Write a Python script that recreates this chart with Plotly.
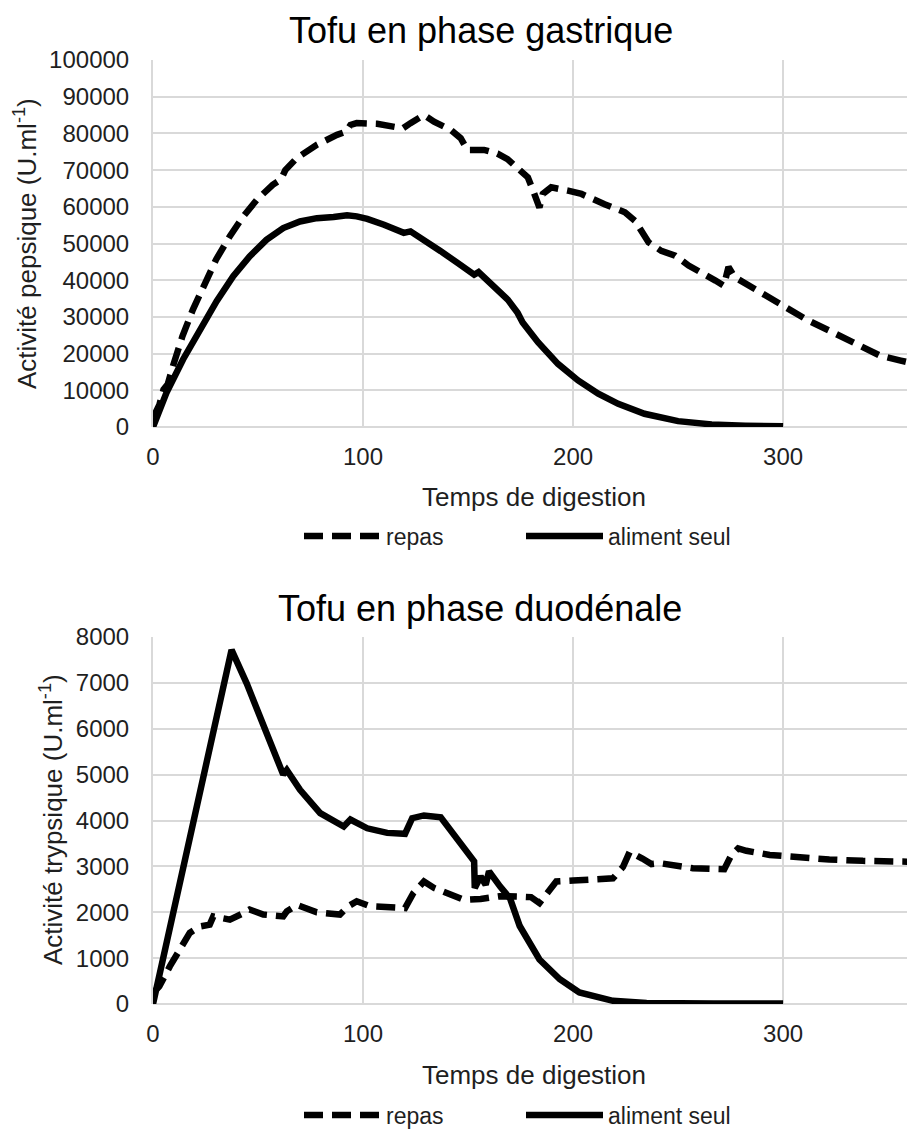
import plotly.graph_objects as go

# Tofu, phase gastrique : activité pepsique (U.ml-1)
gastric_repas_t = [0, 3, 5, 7, 9.5, 14, 19, 24, 30, 36.6, 43, 49.4, 57, 61, 63, 68.5, 78, 87.6, 92, 94, 97,
                   106.7, 113, 119, 122.6, 129, 133.8, 141.7, 146.5, 149.7, 157.6, 164, 168.8, 173.6, 178.5,
                   181, 184, 185.6, 189.6, 197.6, 204, 215, 224.7, 229.5, 233.5, 236, 242, 248.6, 255, 261.4,
                   267.8, 271.8, 274, 277, 285, 293, 301, 312, 323.6, 336, 346, 356, 362]
gastric_repas = [2500, 6000, 10200, 11600, 16600, 24700, 32000, 38300, 45600, 52000, 57400, 61900, 66000, 67500,
                 70000, 73300, 76900, 79600, 80500, 82300, 82800, 82600, 81900, 81400, 82800, 85000, 83200, 81000,
                 78700, 75500, 75500, 74500, 73000, 70400, 68000, 64400, 59800, 63500, 65300, 64400, 63500, 60700,
                 58500, 56200, 52600, 50300, 48000, 46700, 44000, 41700, 39900, 38500, 43600, 40800, 38100, 35400,
                 32600, 29000, 25800, 22200, 19500, 18100, 17300]

gastric_seul_t = [0, 6.4, 14.3, 22.3, 30.3, 38.2, 46, 54, 62, 70, 78, 86, 92.4, 97, 102, 110, 119.4, 122.6, 129,
                  137, 145, 152.9, 155, 162.4, 168.9, 173.6, 176, 183.3, 192.8, 202.4, 212, 221.5, 234, 250, 266,
                  282, 300]
gastric_seul = [0, 9300, 18400, 26600, 34300, 41100, 46500, 51000, 54200, 56000, 56900, 57200, 57700, 57400, 56700,
                55100, 52900, 53300, 51000, 47900, 44700, 41500, 42200, 38300, 34700, 31100, 28500, 23100, 17200,
                12700, 9100, 6300, 3600, 1600, 700, 360, 200]

# Tofu, phase duodénale : activité trypsique (U.ml-1)
duod_repas_t = [0, 3, 8, 12.7, 17.5, 22.3, 27, 28.7, 36.6, 43, 46, 52.5, 62, 63.7, 68.5, 78, 89, 93, 97, 103.5,
                110, 120, 124, 129, 133.8, 141.7, 148, 156, 165, 175, 180, 184, 187.3, 192, 200, 214, 219, 223.8,
                227, 233, 237.3, 241.3, 250.8, 257, 272, 275.4, 278.6, 282.5, 293.6, 306, 322, 338, 362]
duod_repas = [240, 385, 820, 1180, 1550, 1690, 1730, 1910, 1840, 1980, 2060, 1950, 1910, 2020, 2160, 2000, 1950,
              2130, 2240, 2130, 2110, 2090, 2420, 2670, 2530, 2380, 2270, 2290, 2350, 2340, 2330, 2200, 2380, 2670,
              2690, 2720, 2740, 2990, 3320, 3170, 3050, 3070, 2990, 2960, 2940, 3250, 3390, 3340, 3250, 3200, 3150,
              3120, 3100]

duod_seul_t = [0, 37.4, 44.6, 52.5, 60.5, 62, 63.7, 70, 79.6, 90.8, 94, 102, 111.5, 120, 123.4, 129, 137, 145,
               152.9, 153.2, 156, 158.4, 160, 165.3, 170, 174.6, 180, 184, 193.7, 203, 219, 235, 266.7, 300]
duod_seul = [0, 7720, 6990, 6120, 5180, 5000, 5100, 4670, 4160, 3870, 4020, 3830, 3730, 3710, 4050, 4110, 4070,
             3580, 3110, 2530, 2780, 2600, 2890, 2560, 2300, 1700, 1260, 970, 540, 250, 70, 20, 10, 10]

FONT = "Liberation Sans, Arial, sans-serif"
W, H = 907, 1129
DASH = "19px,9px"


def py(px):  # pixel row -> paper y
    return (H - px) / H


def pxx(px):  # pixel column -> paper x
    return (px - 153) / (W - 153)


fig = go.Figure()

fig.add_trace(go.Scatter(x=gastric_repas_t, y=gastric_repas, mode="lines", name="repas",
                         line=dict(color="black", width=6.5, dash=DASH), xaxis="x", yaxis="y", legend="legend"))
fig.add_trace(go.Scatter(x=gastric_seul_t, y=gastric_seul, mode="lines", name="aliment seul",
                         line=dict(color="black", width=6.5), xaxis="x", yaxis="y", legend="legend"))
fig.add_trace(go.Scatter(x=duod_repas_t, y=duod_repas, mode="lines", name="repas",
                         line=dict(color="black", width=6.5, dash=DASH), xaxis="x2", yaxis="y2", legend="legend2"))
fig.add_trace(go.Scatter(x=duod_seul_t, y=duod_seul, mode="lines", name="aliment seul",
                         line=dict(color="black", width=6.5), xaxis="x2", yaxis="y2", legend="legend2"))

# invisible outside ticks give the gap between axis and tick labels
xax = dict(range=[0, 359], tickvals=[0, 100, 200, 300], showgrid=True, gridcolor="#d9d9d9", gridwidth=2,
           zeroline=False, showline=False, ticks="outside", ticklen=8, tickcolor="rgba(0,0,0,0)",
           tickfont=dict(size=24, color="#1f1f1f", family=FONT))
yax = dict(showgrid=True, gridcolor="#d9d9d9", gridwidth=2, zeroline=True, zerolinecolor="#d9d9d9",
           zerolinewidth=2, showline=True, linecolor="#d9d9d9", linewidth=2, ticks="", ticklabelstandoff=17,
           tickformat="d", tickfont=dict(size=24, color="#1f1f1f", family=FONT))

leg = dict(orientation="h", xanchor="left", yanchor="middle", font=dict(size=23, color="#1f1f1f", family=FONT),
           entrywidth=130, itemwidth=77, bgcolor="rgba(0,0,0,0)")

ann_font = dict(size=26, color="#1f1f1f")
fig.update_layout(
    width=W, height=H,
    margin=dict(l=153, r=0, t=0, b=0, autoexpand=False),
    plot_bgcolor="white", paper_bgcolor="white",
    font=dict(family=FONT, color="#1f1f1f"),
    xaxis=dict(xax, domain=[0, 1], anchor="y"),
    yaxis=dict(yax, domain=[py(427), py(60)], range=[0, 100000], dtick=10000, anchor="x"),
    xaxis2=dict(xax, domain=[0, 1], anchor="y2"),
    yaxis2=dict(yax, domain=[py(1004), py(637)], range=[0, 8000], dtick=1000, anchor="x2"),
    legend=dict(leg, x=pxx(299), y=py(536)),
    legend2=dict(leg, x=pxx(299), y=py(1115)),
    annotations=[
        dict(text="Tofu en phase gastrique", x=pxx(481), y=py(31), font=dict(size=36, color="black")),
        dict(text="Tofu en phase duodénale", x=pxx(480), y=py(608), font=dict(size=36, color="black")),
        dict(text="Temps de digestion", x=pxx(534), y=py(497), font=ann_font),
        dict(text="Temps de digestion", x=pxx(534), y=py(1075), font=ann_font),
        dict(text="Activité pepsique (U.ml<sup>-1</sup>)", x=pxx(26), y=py(244), textangle=-90, font=ann_font),
        dict(text="Activité trypsique (U.ml<sup>-1</sup>)", x=pxx(51), y=py(820), textangle=-90, font=ann_font),
    ],
)
fig.update_annotations(xref="paper", yref="paper", showarrow=False, xanchor="center", yanchor="middle")

fig.write_html("out.html", config={"displayModeBar": False},
               post_script="document.body.style.margin='0';")
